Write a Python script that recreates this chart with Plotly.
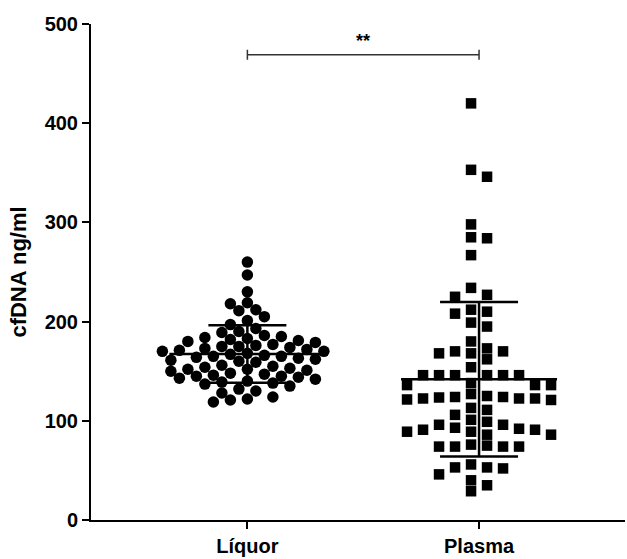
import numpy as np
import plotly.graph_objects as go

categories = ["Líquor", "Plasma"]

liquor = [260, 247, 230, 219, 218, 212, 211, 205, 201, 197, 193, 190, 189,
          186, 185, 184, 183, 182, 181, 180, 179,
          177, 176, 175, 175, 174, 173, 172, 171, 170, 170,
          168, 167, 166, 165, 165, 164, 163, 162, 161, 160, 159,
          156, 155, 154, 153, 152, 152, 151, 150,
          148, 147, 146, 145, 145, 144, 143, 142,
          140, 139, 138, 137, 135,
          132, 130, 128,
          124, 122, 121, 119]

plasma = [420, 353, 346, 298, 285, 284, 267, 234, 227, 225, 212, 210, 208,
          199, 195, 180, 170, 168, 173, 168, 170, 162, 154,
          146, 146, 146, 146, 146, 146, 136, 138, 136, 136,
          124, 124, 122.5, 123.5, 113, 122.5, 122.5, 111, 121.5, 121, 127, 125,
          106, 101, 99, 92, 93, 91, 86, 89, 86, 89, 91, 96, 96,
          74, 75, 74, 74, 76, 74, 52, 53, 46, 53, 56, 40, 35, 29]

y_ticks = [0, 100, 200, 300, 400, 500]
y_title = "cfDNA ng/ml"
signif = "**"

# ---- layout geometry ----
W, H = 627, 559
ML, MR, MT, MB = 91, 2, 24, 37
XR = [-0.675, 1.63]
YR = [0, 500]
px_per_x = (W - ML - MR) / (XR[1] - XR[0])
px_per_y = (H - MT - MB) / (YR[1] - YR[0])


def grid_swarm(vals, spacing, base, d):
    """Place points on a column grid so that no two markers are closer than d px."""
    vals = np.asarray(vals, float)
    ys = vals * px_per_y
    order = np.argsort(-vals, kind="stable")
    slots = []
    for k in range(60):
        for s in (-1, 1):
            v = s * (k + base)
            if v not in slots:
                slots.append(v)
    slots.sort(key=lambda v: (abs(v), v > 0))
    placed = []
    xs = np.zeros(len(vals))
    for i in order:
        for sl in slots:
            x = sl * spacing
            if all((x - px) ** 2 + (ys[i] - py) ** 2 >= d * d for px, py in placed):
                xs[i] = x
                placed.append((x, ys[i]))
                break
    return xs / px_per_x


fig = go.Figure()

groups = [
    (liquor, "circle", 11.5, grid_swarm(liquor, 8.5, 0, 10.5)),
    (plasma, "square", 10.5, grid_swarm(plasma, 16, 0.5, 10.5)),
]

for gi, (vals, sym, size, offs) in enumerate(groups):
    fig.add_trace(go.Scatter(
        x=gi + offs, y=vals, mode="markers",
        marker=dict(symbol=sym, size=size, color="black", line=dict(width=0)),
        showlegend=False, hoverinfo="y"))

for gi, (vals, sym, size, offs) in enumerate(groups):
    m = float(np.mean(vals))
    sd = float(np.std(vals, ddof=1))
    hw_mean = 78 / px_per_x
    hw_sd = 39 / px_per_x
    line = dict(color="black", width=2.5)
    fig.add_trace(go.Scatter(x=[gi - hw_mean, gi + hw_mean], y=[m, m], mode="lines",
                             line=line, showlegend=False, hoverinfo="skip"))
    for v in (m - sd, m + sd):
        fig.add_trace(go.Scatter(x=[gi - hw_sd, gi + hw_sd], y=[v, v], mode="lines",
                                 line=line, showlegend=False, hoverinfo="skip"))
    fig.add_trace(go.Scatter(x=[gi, gi], y=[m - sd, m + sd], mode="lines",
                             line=line, showlegend=False, hoverinfo="skip"))

# significance bracket
by = 469
tick = 5 / px_per_y
fig.add_trace(go.Scatter(x=[0, 0, 0, None, 0, 1, None, 1, 1],
                         y=[by - tick, by + tick, by, None, by, by, None, by - tick, by + tick],
                         mode="lines", line=dict(color="#333333", width=1.5),
                         showlegend=False, hoverinfo="skip"))
fig.add_annotation(x=0.5, y=by + 14, text=f"<b>{signif}</b>", showarrow=False,
                   font=dict(size=18, color="black", family="Arial, Liberation Sans"),
                   yanchor="middle")

font = dict(family="Arial, Liberation Sans", color="black")
fig.update_layout(
    width=W, height=H,
    margin=dict(l=ML, r=MR, t=MT, b=MB, pad=0),
    plot_bgcolor="white", paper_bgcolor="white",
    font=font,
    xaxis=dict(range=XR, tickvals=[0, 1], ticktext=[f"<b>{c}</b>" for c in categories],
               showgrid=False, zeroline=False, showline=True, linecolor="black", linewidth=2,
               ticks="outside", ticklen=7, tickwidth=2, tickcolor="black",
               tickfont=dict(size=20, **font)),
    yaxis=dict(range=YR, tickvals=y_ticks, ticktext=[f"<b>{t}</b>" for t in y_ticks],
               showgrid=False, zeroline=False, showline=True, linecolor="black", linewidth=2,
               ticks="outside", ticklen=7, tickwidth=2, tickcolor="black",
               tickfont=dict(size=20, **font),
               title=dict(text=f"<b>{y_title}</b>", font=dict(size=22, **font), standoff=12)),
)

fig.write_html("out.html")
